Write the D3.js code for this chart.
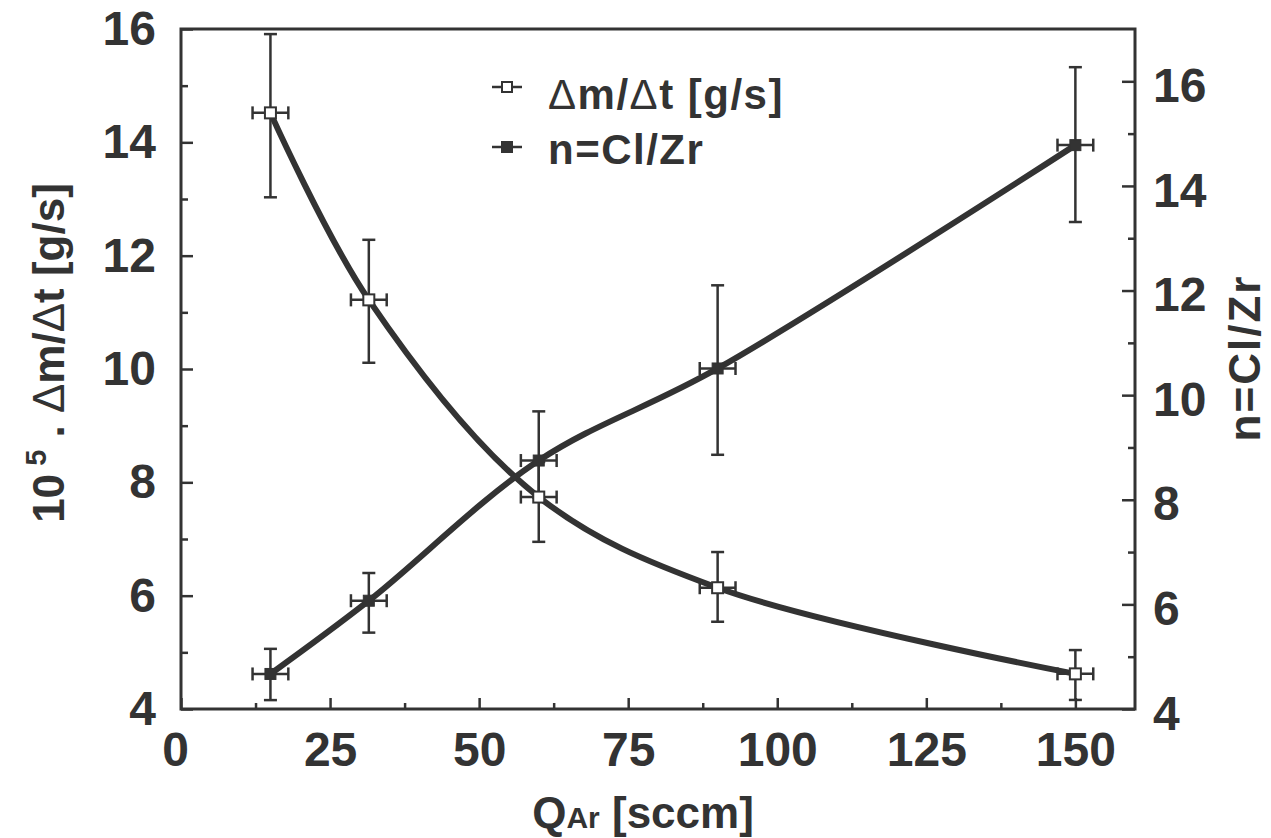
<!DOCTYPE html>
<html><head><meta charset="utf-8">
<script src="https://cdn.jsdelivr.net/npm/d3@7"></script>
<style>body{margin:0;background:#fff}</style>
</head><body><svg id="c" width="1271" height="838"></svg>
<script>
// ---- data ----
const qAr = [15, 31.5, 60, 90, 150];
const qArErr = [3, 3, 3, 3, 3];
const massRate   = [14.52, 11.22, 7.74, 6.14, 4.62];
const massRateHi = [15.91, 12.28, 8.36, 6.77, 5.04];
const massRateLo = [13.03, 10.11, 6.95, 5.54, 4.16];
const ratioN   = [4.67, 6.07, 8.75, 10.51, 14.78];
const ratioNHi = [5.15, 6.60, 9.69, 12.10, 16.27];
const ratioNLo = [4.17, 5.46, 8.04, 8.86, 13.31];
const xTicks = [0, 25, 50, 75, 100, 125, 150];
const xMinorTicks = [12.5, 37.5, 62.5, 87.5, 112.5, 137.5];
const yLeftTicks = [4, 6, 8, 10, 12, 14, 16];
const yRightTicks = [4, 6, 8, 10, 12, 14, 16];
const yMinorTicks = [5, 7, 9, 11, 13, 15];
const legendLabels = ["Δm/Δt [g/s]", "n=Cl/Zr"];

// ---- layout ----
const ink = "#333";
const FONT = "'Liberation Sans', Arial, Helvetica, sans-serif";
const L = 181, R = 1135, T = 29, B = 709;
const svg = d3.select("#c");
svg.append("rect").attr("width",1271).attr("height",838).attr("fill","#fff");

const x = d3.scaleLinear().domain([0,160]).range([L,R]);
const yL = d3.scaleLinear().domain([4,16]).range([B,T]);
const yR = d3.scaleLinear().domain([4,17]).range([B,T]);

function styleAxis(g){
  g.select(".domain").remove();
  g.selectAll(".tick line").attr("stroke",ink).attr("stroke-width",2.5);
  g.selectAll(".tick text").attr("fill",ink).attr("font-family",FONT)
    .attr("font-weight","bold").attr("font-size",48);
}

// left axis
svg.append("g").attr("transform",`translate(${L},0)`)
  .call(d3.axisLeft(yL).tickValues(yLeftTicks).tickSizeInner(-12).tickSizeOuter(0).tickPadding(25).tickFormat(d3.format("d")))
  .call(styleAxis);
svg.append("g").attr("transform",`translate(${L},0)`)
  .call(d3.axisLeft(yL).tickValues(yMinorTicks).tickSizeInner(-7).tickSizeOuter(0).tickFormat(""))
  .call(styleAxis);
// right axis
svg.append("g").attr("transform",`translate(${R},0)`)
  .call(d3.axisRight(yR).tickValues(yRightTicks).tickSizeInner(-13).tickSizeOuter(0).tickPadding(18).tickFormat(d3.format("d")))
  .call(styleAxis)
  .selectAll(".tick text").attr("dy","0.42em");
svg.append("g").attr("transform",`translate(${R},0)`)
  .call(d3.axisRight(yR).tickValues(yMinorTicks).tickSizeInner(-7).tickSizeOuter(0).tickFormat(""))
  .call(styleAxis);
// bottom axis
const gx = svg.append("g").attr("transform",`translate(0,${B})`)
  .call(d3.axisBottom(x).tickValues(xTicks).tickSizeInner(-11).tickSizeOuter(0).tickPadding(23).tickFormat(d3.format("d")))
  .call(styleAxis);
gx.selectAll(".tick text").filter(d=>d===0).attr("dx",-6);
svg.append("g").attr("transform",`translate(0,${B})`)
  .call(d3.axisBottom(x).tickValues(xMinorTicks).tickSizeInner(-6).tickSizeOuter(0).tickFormat(""))
  .call(styleAxis);

// frame
svg.append("rect").attr("x",L).attr("y",T).attr("width",R-L).attr("height",B-T)
  .attr("fill","none").attr("stroke",ink).attr("stroke-width",3);

// curves
const idx = d3.range(qAr.length);
const lineM = d3.line().x(i=>x(qAr[i])).y(i=>yL(massRate[i])).curve(d3.curveCatmullRom.alpha(0.5));
const lineN = d3.line().x(i=>x(qAr[i])).y(i=>yR(ratioN[i])).curve(d3.curveCatmullRom.alpha(0.5));
svg.append("path").attr("d",lineM(idx)).attr("fill","none").attr("stroke",ink).attr("stroke-width",6);
svg.append("path").attr("d",lineN(idx)).attr("fill","none").attr("stroke",ink).attr("stroke-width",6);

// error bars
const cap = 6.5;
function errorBars(vals, hi, lo, y){
  const g = svg.append("g").attr("stroke",ink).attr("stroke-width",2.5).attr("fill","none");
  idx.forEach(i=>{
    const cx = x(qAr[i]), cy = y(vals[i]);
    const yh = y(hi[i]), yl = y(lo[i]);
    const xl = x(qAr[i]-qArErr[i]), xr = x(qAr[i]+qArErr[i]);
    g.append("line").attr("x1",cx).attr("x2",cx).attr("y1",yh).attr("y2",yl);
    g.append("line").attr("x1",cx-cap).attr("x2",cx+cap).attr("y1",yh).attr("y2",yh);
    g.append("line").attr("x1",cx-cap).attr("x2",cx+cap).attr("y1",yl).attr("y2",yl);
    g.append("line").attr("x1",xl).attr("x2",xr).attr("y1",cy).attr("y2",cy);
    g.append("line").attr("x1",xl).attr("x2",xl).attr("y1",cy-cap).attr("y2",cy+cap);
    g.append("line").attr("x1",xr).attr("x2",xr).attr("y1",cy-cap).attr("y2",cy+cap);
  });
}
errorBars(massRate, massRateHi, massRateLo, yL);
errorBars(ratioN, ratioNHi, ratioNLo, yR);

// markers
const ms = 11;
svg.append("g").selectAll("rect").data(idx).join("rect")
  .attr("x",i=>x(qAr[i])-ms/2).attr("y",i=>yL(massRate[i])-ms/2)
  .attr("width",ms).attr("height",ms).attr("fill","#fff").attr("stroke",ink).attr("stroke-width",2);
svg.append("g").selectAll("rect").data(idx).join("rect")
  .attr("x",i=>x(qAr[i])-ms/2).attr("y",i=>yR(ratioN[i])-ms/2)
  .attr("width",ms).attr("height",ms).attr("fill",ink).attr("stroke",ink).attr("stroke-width",1);

// helper: append text where Δ is drawn at normal weight
function richText(sel, str){
  str.split(/(Δ)/).filter(s=>s.length).forEach(part=>{
    const t = sel.append("tspan").text(part);
    if(part==="Δ") t.attr("font-weight","normal");
  });
}

// legend
const legRows = [{y:87, open:true, base:109},{y:147, open:false, base:164}];
legRows.forEach((r,k)=>{
  svg.append("line").attr("x1",492).attr("x2",522).attr("y1",r.y).attr("y2",r.y)
    .attr("stroke",ink).attr("stroke-width",2.5);
  svg.append("rect").attr("x",507-5).attr("y",r.y-5).attr("width",10).attr("height",10)
    .attr("fill",r.open?"#fff":ink).attr("stroke",ink).attr("stroke-width",2);
  const t = svg.append("text").attr("x",548).attr("y",r.base).attr("fill",ink)
    .attr("font-family",FONT).attr("font-weight","bold").attr("font-size",42)
    .attr("letter-spacing",1.5);
  richText(t, legendLabels[k]);
});

// axis titles
const bt = svg.append("text").attr("x",643).attr("y",828).attr("text-anchor","middle")
  .attr("fill",ink).attr("font-family",FONT).attr("font-weight","bold").attr("font-size",44);
bt.append("tspan").text("Q");
bt.append("tspan").attr("font-size",30).text("Ar");
bt.append("tspan").text(" [sccm]");

const lt = svg.append("text").attr("transform","translate(64,353) rotate(-90)").attr("text-anchor","middle")
  .attr("fill",ink).attr("font-family",FONT).attr("font-weight","bold").attr("font-size",44);
lt.append("tspan").text("10");
lt.append("tspan").attr("font-size",29).attr("dy",-18).text(" 5");
lt.append("tspan").attr("dy",18).text(" . ");
richText(lt, "Δm/Δt [g/s]");

svg.append("text").attr("transform","translate(1260,358) rotate(-90)").attr("text-anchor","middle")
  .attr("fill",ink).attr("font-family",FONT).attr("font-weight","bold").attr("font-size",44)
  .attr("letter-spacing",2).text("n=Cl/Zr");
</script>
</body></html>
